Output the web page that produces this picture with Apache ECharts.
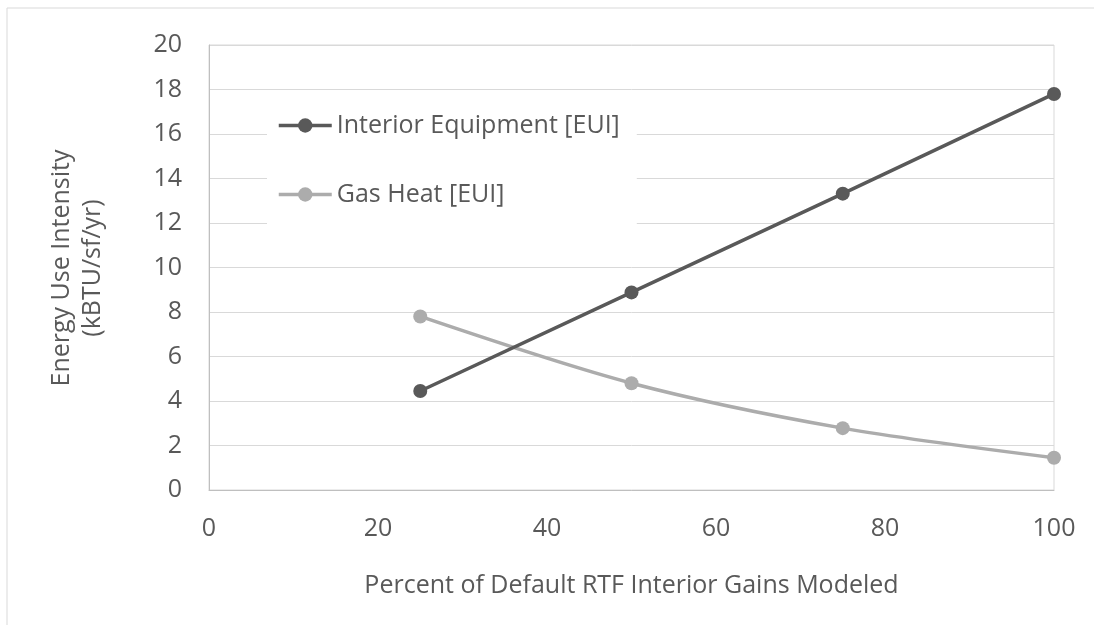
<!DOCTYPE html>
<html>
<head>
<meta charset="utf-8">
<script src="https://cdn.jsdelivr.net/npm/echarts@6/dist/echarts.min.js"></script>
<style>
  html, body { margin: 0; padding: 0; background: #fff; }
  #id-chart { width: 1094px; height: 625px; }
</style>
</head>
<body>
<div id="id-chart"></div>
<script>
// percent of default RTF interior gains
let xValues = [25, 50, 75, 100];
let equipment = [4.45, 8.88, 13.32, 17.8];
let gasHeat = [7.8, 4.8, 2.78, 1.45];
let seriesNames = ['Interior Equipment [EUI]', 'Gas Heat [EUI]'];

let font = 'Open Sans';
let fontSize = 25;
let chart = {};
chart.echart = echarts.init(document.getElementById('id-chart'));
chart.pairs = function(ys) {
  let out = [];
  for(let i = 0; i < xValues.length; i++) {
    out.push([xValues[i], ys[i]]);
  }
  return out;
};
chart.load = function() {
  this.echart.setOption({
    animation: false,
    backgroundColor: '#fff',
    textStyle: { fontFamily: font },
    grid: {
      left: 209,
      right: 40,
      top: 45,
      bottom: 135,
      show: true,
      borderColor: '#d9d9d9',
      borderWidth: 1
    },
    graphic: [{
      type: 'rect',
      shape: { x: 7, y: 8, width: 1200, height: 700 },
      style: { fill: 'none', stroke: '#d9d9d9', lineWidth: 1 },
      silent: true
    }, {
      type: 'text',
      x: 77,
      y: 268,
      rotation: Math.PI / 2,
      style: {
        text: 'Energy Use Intensity\n(kBTU/sf/yr)',
        fontFamily: font,
        fontSize: fontSize,
        lineHeight: 31,
        fill: '#595959',
        align: 'center',
        verticalAlign: 'middle'
      }
    }],
    legend: {
      orient: 'vertical',
      left: 267,
      top: 103,
      padding: [10, 17, 28, 10],
      backgroundColor: '#fff',
      itemWidth: 53,
      itemHeight: 18,
      itemGap: 44,
      lineStyle: { width: 3.5 },
      textStyle: {
        fontFamily: font,
        fontSize: fontSize,
        lineHeight: 20,
        color: '#595959'
      },
      data: seriesNames
    },
    xAxis: {
      type: 'value',
      min: 0,
      max: 100,
      interval: 20,
      name: 'Percent of Default RTF Interior Gains Modeled',
      nameLocation: 'middle',
      nameGap: 83,
      nameTextStyle: { fontFamily: font, fontSize: fontSize, color: '#595959' },
      axisLine: { lineStyle: { color: '#bfbfbf', width: 1 } },
      axisTick: { show: false },
      axisLabel: { fontFamily: font, fontSize: fontSize, color: '#595959', margin: 26 },
      splitLine: { show: false }
    },
    yAxis: {
      type: 'value',
      min: 0,
      max: 20,
      interval: 2,
      axisLine: { show: true, lineStyle: { color: '#bfbfbf', width: 1 } },
      axisTick: { show: false },
      axisLabel: { fontFamily: font, fontSize: fontSize, color: '#595959', margin: 27 },
      splitLine: { lineStyle: { color: '#d9d9d9', width: 1 } }
    },
    series: [{
      name: seriesNames[0],
      type: 'line',
      data: this.pairs(equipment),
      symbol: 'circle',
      symbolSize: 14,
      color: '#595959',
      lineStyle: { width: 3.5, color: '#595959' },
      z: 3
    }, {
      name: seriesNames[1],
      type: 'line',
      data: this.pairs(gasHeat),
      smooth: 0.3,
      symbol: 'circle',
      symbolSize: 14,
      color: '#acacac',
      lineStyle: { width: 3.5, color: '#acacac' },
      z: 2
    }]
  });
};
chart.load();
</script>
</body>
</html>
